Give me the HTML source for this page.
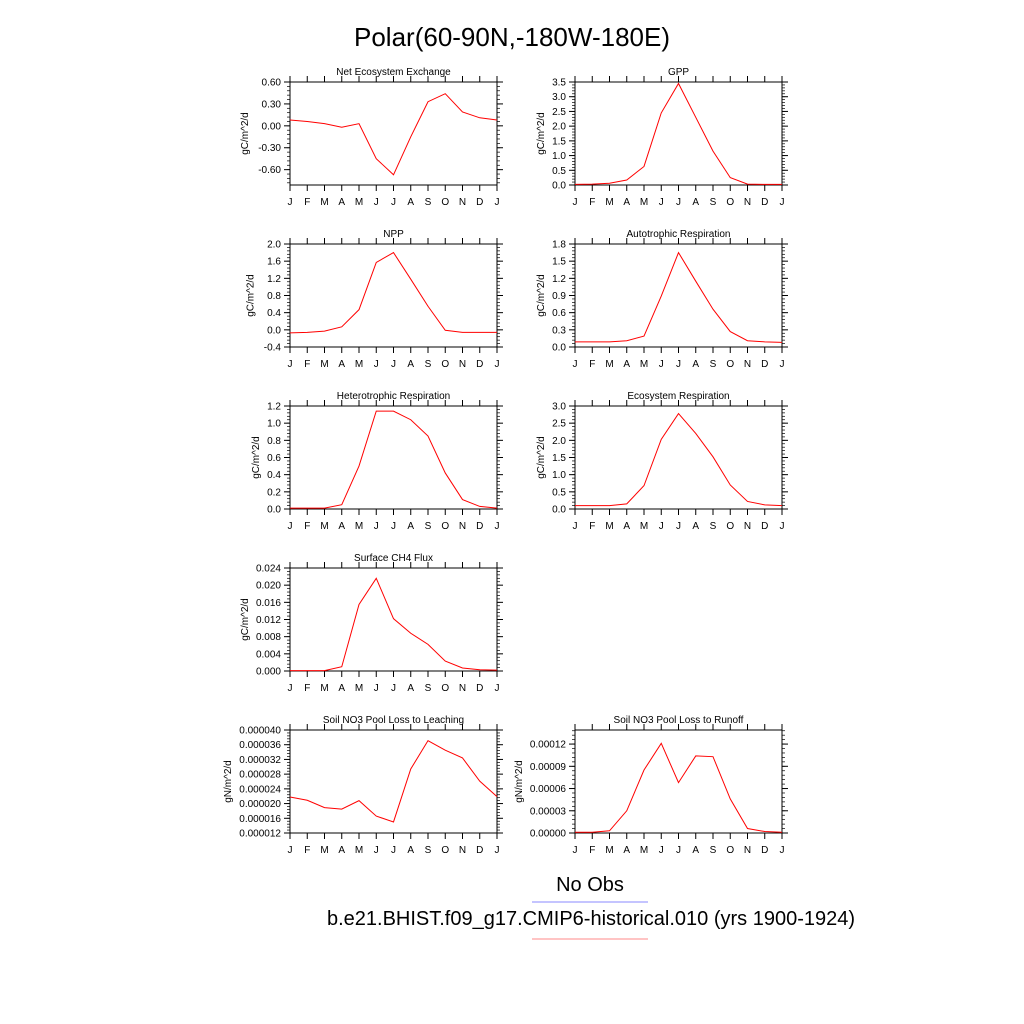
<!DOCTYPE html>
<html><head><meta charset="utf-8"><style>
body{margin:0;background:#fff;font-family:"Liberation Sans",sans-serif}
svg{display:block}
</style></head><body>
<svg id="c" width="1024" height="1024" xmlns="http://www.w3.org/2000/svg">
<text x="512" y="46" font-size="26" text-anchor="middle">Polar(60-90N,-180W-180E)</text>
<text x="590" y="891" font-size="20" text-anchor="middle">No Obs</text>
<line x1="532" x2="648" y1="902" y2="902" stroke="#88f" stroke-width="1"/>
<text x="591" y="925" font-size="20" text-anchor="middle">b.e21.BHIST.f09_g17.CMIP6-historical.010 (yrs 1900-1924)</text>
<line x1="532" x2="648" y1="939" y2="939" stroke="#f88" stroke-width="1"/>
</svg>
<script>
const months=["J","F","M","A","M","J","J","A","S","O","N","D","J"];
const neeVals=[0.08,0.06,0.03,-0.02,0.03,-0.45,-0.67,-0.15,0.33,0.44,0.19,0.11,0.08];
const gppVals=[0.02,0.03,0.06,0.17,0.63,2.45,3.45,2.3,1.15,0.25,0.03,0.02,0.02];
const nppVals=[-0.07,-0.06,-0.03,0.07,0.47,1.57,1.8,1.18,0.55,-0.01,-0.06,-0.06,-0.06];
const arVals=[0.09,0.09,0.09,0.11,0.19,0.89,1.65,1.15,0.66,0.27,0.11,0.09,0.08];
const hrVals=[0.01,0.01,0.01,0.05,0.5,1.14,1.14,1.04,0.85,0.42,0.11,0.03,0.01];
const erVals=[0.1,0.1,0.1,0.15,0.68,2.03,2.78,2.2,1.52,0.7,0.22,0.12,0.1];
const ch4Vals=[0.0001,0.0001,0.0001,0.001,0.0155,0.0216,0.0122,0.0088,0.0062,0.0023,0.0007,0.0003,0.0002];
const leachVals=[0.0000218,0.0000209,0.0000189,0.0000185,0.0000208,0.0000166,0.0000150,0.0000294,0.0000371,0.0000345,0.0000324,0.0000261,0.0000219];
const runoffVals=[0.000001,0.000001,0.000003,0.00003,0.000085,0.000121,0.000068,0.000104,0.000103,0.000046,0.000006,0.000002,0.000001];
const neeTicks=["0.60","0.30","0.00","-0.30","-0.60"];
const gppTicks=["3.5","3.0","2.5","2.0","1.5","1.0","0.5","0.0"];
const nppTicks=["2.0","1.6","1.2","0.8","0.4","0.0","-0.4"];
const arTicks=["1.8","1.5","1.2","0.9","0.6","0.3","0.0"];
const hrTicks=["1.2","1.0","0.8","0.6","0.4","0.2","0.0"];
const erTicks=["3.0","2.5","2.0","1.5","1.0","0.5","0.0"];
const ch4Ticks=["0.024","0.020","0.016","0.012","0.008","0.004","0.000"];
const leachTicks=["0.000040","0.000036","0.000032","0.000028","0.000024","0.000020","0.000016","0.000012"];
const runoffTicks=["0.00012","0.00009","0.00006","0.00003","0.00000"];
const NS="http://www.w3.org/2000/svg";
const svg=document.getElementById('c');
function mk(t,a){const e=document.createElementNS(NS,t);for(const k in a)e.setAttribute(k,a[k]);svg.appendChild(e);return e;}
function panel(id,title,unit,x0,y0,vals,ticks,ymin,ymax){
  const W=207,H=103;
  const sx=i=>x0+i*W/12, sy=v=>y0+H-(v-ymin)/(ymax-ymin)*H;
  const t=mk('text',{x:x0+W/2,y:y0-7,'font-size':10,'text-anchor':'middle'});t.textContent=title;
  
  
  const r=mk('rect',{x:x0,y:y0,width:W,height:H,fill:'none',stroke:'#000','stroke-width':1});
  
  
  months.forEach((m,i)=>{const x=sx(i);
    mk('line',{x1:x,x2:x,y1:y0+H,y2:y0+H+6,stroke:'#000'});
    mk('line',{x1:x,x2:x,y1:y0,y2:y0-6,stroke:'#000'});
    const l=mk('text',{x:x,y:y0+H+20,'font-size':10,'text-anchor':'middle'});l.textContent=m;
    
    
  });
  ticks.forEach(s=>{const v=parseFloat(s);const y=sy(v);if(y<y0-0.5||y>y0+H+0.5)return;
    mk('line',{x1:x0-6,x2:x0,y1:y,y2:y,stroke:'#000'});
    mk('line',{x1:x0+W,x2:x0+W+6,y1:y,y2:y,stroke:'#000'});
    const l=mk('text',{x:x0-9,y:y+3.5,'font-size':10,'text-anchor':'end'});l.textContent=s;
    
    
  });
  const step=(parseFloat(ticks[0])-parseFloat(ticks[1]))/5;
  const base=parseFloat(ticks[ticks.length-1]);
  for(let k=-20;k<60;k++){const v=base+k*step;const y=sy(v);if(y<y0||y>y0+H)continue;
    mk('line',{x1:x0-3,x2:x0,y1:y,y2:y,stroke:'#000','stroke-width':0.7});
    mk('line',{x1:x0+W,x2:x0+W+3,y1:y,y2:y,stroke:'#000','stroke-width':0.7});}
  const longest=Math.max(...ticks.map(s=>s.length));
  const ux=x0-14-longest*5.6;
  const u=mk('text',{x:ux,y:y0+H/2,'font-size':10,'text-anchor':'middle',transform:`rotate(-90 ${ux} ${y0+H/2})`});u.textContent=unit;
  
  
  const p=mk('polyline',{points:vals.map((v,i)=>sx(i)+','+sy(v)).join(' '),fill:'none',stroke:'#f00','stroke-width':1});
  
  
}
const L=290,R=575,rows=[82,244,406,568,730];
panel('nee','Net Ecosystem Exchange','gC/m^2/d',L,rows[0],neeVals,neeTicks,-0.81,0.6);
panel('gpp','GPP','gC/m^2/d',R,rows[0],gppVals,gppTicks,0,3.5);
panel('npp','NPP','gC/m^2/d',L,rows[1],nppVals,nppTicks,-0.4,2.0);
panel('ar','Autotrophic Respiration','gC/m^2/d',R,rows[1],arVals,arTicks,0,1.8);
panel('hr','Heterotrophic Respiration','gC/m^2/d',L,rows[2],hrVals,hrTicks,0,1.2);
panel('er','Ecosystem Respiration','gC/m^2/d',R,rows[2],erVals,erTicks,0,3.0);
panel('ch4','Surface CH4 Flux','gC/m^2/d',L,rows[3],ch4Vals,ch4Ticks,0,0.024);
panel('leach','Soil NO3 Pool Loss to Leaching','gN/m^2/d',L,rows[4],leachVals,leachTicks,0.000012,0.000040);
panel('runoff','Soil NO3 Pool Loss to Runoff','gN/m^2/d',R,rows[4],runoffVals,runoffTicks,0,0.000139);
</script>
</body></html>
